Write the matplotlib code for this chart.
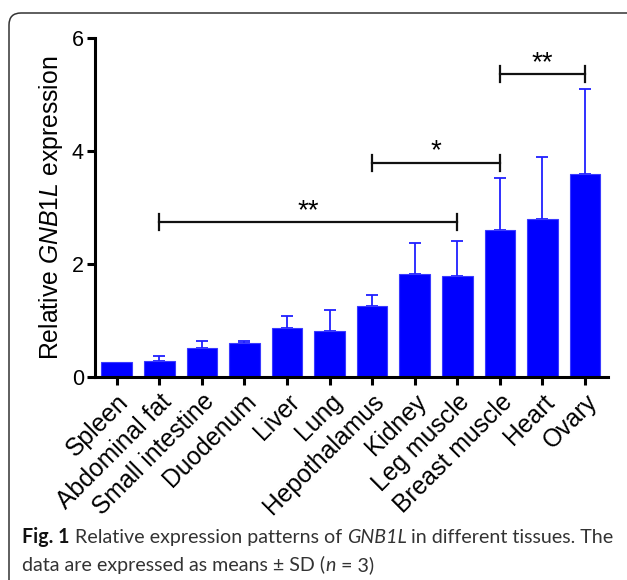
import matplotlib
matplotlib.use("Agg")
import matplotlib.pyplot as plt
from matplotlib.patches import FancyBboxPatch
from matplotlib.transforms import IdentityTransform
import numpy as np

tissues = ["Spleen", "Abdominal fat", "Small intestine", "Duodenum", "Liver", "Lung",
           "Hepothalamus", "Kidney", "Leg muscle", "Breast muscle", "Heart", "Ovary"]
means = [0.27, 0.29, 0.52, 0.60, 0.86, 0.82, 1.26, 1.82, 1.78, 2.61, 2.79, 3.60]
sd = [0.0, 0.08, 0.12, 0.04, 0.22, 0.37, 0.19, 0.56, 0.63, 0.91, 1.11, 1.50]
yticks = [0, 2, 4, 6]
# significance brackets: (start index, end index, height, label)
sig_start = [1, 6, 9]
sig_end = [8, 9, 11]
sig_height = [2.74, 3.79, 5.36]
sig_label = ["**", "*", "**"]

plt.rcParams['font.family'] = ['Liberation Sans', 'DejaVu Sans']
plt.rcParams['mathtext.fontset'] = 'custom'
plt.rcParams['mathtext.rm'] = 'Liberation Sans'
plt.rcParams['mathtext.it'] = 'Liberation Sans:italic'

W, H = 627, 580
fig = plt.figure(figsize=(W / 100, H / 100), dpi=100)
ax = fig.add_axes([95 / W, 1 - 377 / H, (608 - 95) / W, (377 - 38) / H])

x = np.arange(len(tissues))
m = np.array(means)
s = np.array(sd)
has = s > 0
ax.bar(x, means, width=0.72, color='#0000ff', edgecolor='#3a3aff', linewidth=0.8, zorder=2)
ax.errorbar(x[has], m[has], yerr=[np.zeros(has.sum()), s[has]], fmt='none',
            ecolor='#2020ff', elinewidth=1.3, capsize=4.3, capthick=1.3, zorder=1)

ax.set_xlim(-0.51, 11.54)
ax.set_ylim(0, 6)
ax.set_yticks(yticks)
ax.set_yticklabels([str(t) for t in yticks], fontsize=15.5)
ax.set_xticks(x)
ax.set_xticklabels(tissues, rotation=45, ha='right', rotation_mode='anchor', fontsize=17.8)
for sp in ['top', 'right']:
    ax.spines[sp].set_visible(False)
for sp in ['left', 'bottom']:
    ax.spines[sp].set_linewidth(2.2)
ax.tick_params(axis='both', length=6, width=2.2, direction='out')
ax.tick_params(axis='y', pad=2)
ax.tick_params(axis='x', pad=3)
ax.set_ylabel(r"Relative $\mathit{GNB1L}$ expression", fontsize=17.8, labelpad=5)

for a, b, h, lab in zip(sig_start, sig_end, sig_height, sig_label):
    ax.plot([a, b], [h, h], color='#111111', lw=1.6, clip_on=False)
    ax.plot([a, a], [h - 0.14, h + 0.14], color='#111111', lw=1.6, clip_on=False)
    ax.plot([b, b], [h - 0.14, h + 0.14], color='#111111', lw=1.6, clip_on=False)
    ax.text((a + b) / 2, h + 0.2, lab, ha='center', va='center', fontsize=20, clip_on=False)

# border
box = FancyBboxPatch((9, -30), 660, H - 13 + 30, boxstyle="round,pad=0,rounding_size=12",
                     transform=IdentityTransform(), facecolor='none', edgecolor='#333333', lw=1.1)
fig.patches.append(box)

# caption
cap_font = ['Lato', 'DejaVu Sans']
fs = 14.1
renderer = fig.canvas.get_renderer()

def draw_line(pieces, x0, ybase):
    xx = x0
    for txt, kw in pieces:
        col = '#111111' if kw.get('weight') == 'bold' else '#333333'
        t = fig.text(xx / W, 1 - ybase / H, txt, fontsize=fs, family=cap_font,
                     color=col, va='baseline', ha='left', **kw)
        bb = t.get_window_extent(renderer=renderer)
        xx += bb.width

draw_line([("Fig. 1", dict(weight='bold')),
           (" Relative expression patterns of ", {}),
           ("GNB1L", dict(style='italic')),
           (" in different tissues. The", {})], 22, 543)
draw_line([("data are expressed as means \u00b1 SD (", {}),
           ("n", dict(style='italic')),
           (" = 3)", {})], 22, 571)

fig.savefig("out.png", dpi=100)
